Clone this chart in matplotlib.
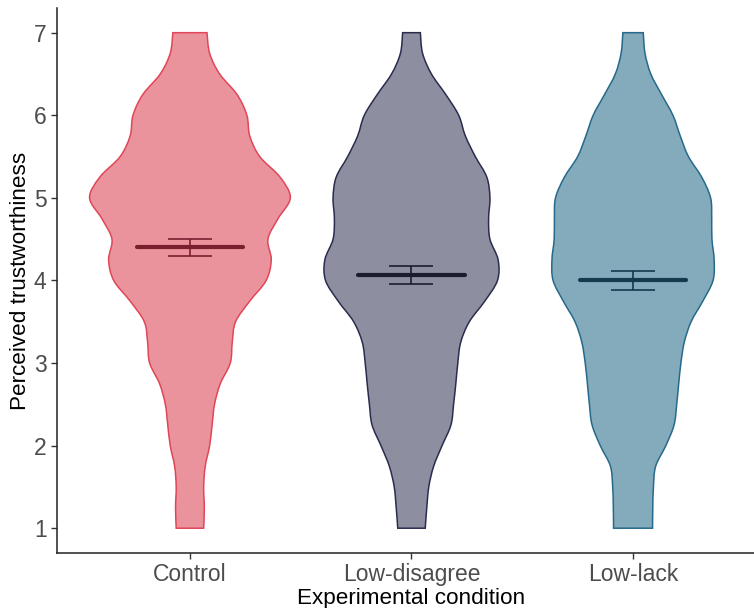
import numpy as np
import matplotlib
matplotlib.use("Agg")
import matplotlib.pyplot as plt
from matplotlib.path import Path
from matplotlib.patches import PathPatch

plt.rcParams['font.family'] = ['Liberation Sans', 'DejaVu Sans']

# --- data ---
conditions = ["Control", "Low-disagree", "Low-lack"]

# density levels (rating scale), shared by all violins
levels = [1.0, 1.25, 1.5, 1.75, 2.0, 2.25, 2.5, 2.75, 3.0, 3.25, 3.5, 3.75,
          4.0, 4.25, 4.5, 4.75, 5.0, 5.25, 5.5, 5.75, 6.0, 6.25, 6.5, 6.75, 7.0]

# violin half-widths (x units) at each level, bottom to top
control_width = [0.062, 0.065, 0.062, 0.069, 0.089, 0.100, 0.111, 0.137, 0.182,
                 0.191, 0.206, 0.270, 0.344, 0.367, 0.352, 0.398, 0.453, 0.407,
                 0.315, 0.270, 0.257, 0.213, 0.134, 0.089, 0.077]
disagree_width = [0.062, 0.069, 0.078, 0.100, 0.138, 0.178, 0.190, 0.200, 0.209,
                  0.222, 0.261, 0.331, 0.388, 0.391, 0.354, 0.348, 0.354, 0.340,
                  0.288, 0.243, 0.213, 0.155, 0.090, 0.050, 0.040]
lack_width = [0.088, 0.089, 0.092, 0.102, 0.148, 0.185, 0.197, 0.206, 0.216,
              0.231, 0.262, 0.315, 0.361, 0.366, 0.356, 0.355, 0.350, 0.310,
              0.250, 0.213, 0.180, 0.129, 0.080, 0.054, 0.046]

means = [4.40, 4.07, 4.00]
std_errors = [0.105, 0.11, 0.11]

fill_colors = ["#EB939C", "#8D8FA1", "#84ABBC"]
edge_colors = ["#DF4657", "#2A2C4E", "#26698A"]
mean_colors = ["#7A1F2E", "#1B1C2E", "#123B4E"]

widths = [control_width, disagree_width, lack_width]


def smooth_side(pts):
    # catmull-rom through the points, returned as bezier control points
    pts = np.asarray(pts)
    ext = np.vstack([pts[0], pts, pts[-1]])
    verts, codes = [], []
    for k in range(1, len(ext) - 2):
        p0, p1, p2, p3 = ext[k - 1], ext[k], ext[k + 1], ext[k + 2]
        verts += [p1 + (p2 - p0) / 6, p2 - (p3 - p1) / 6, p2]
        codes += [Path.CURVE4] * 3
    return verts, codes


def violin_path(pos, w, y):
    left = np.column_stack([pos - w, y])
    right = np.column_stack([pos + w, y])[::-1]
    verts = [left[0]]
    codes = [Path.MOVETO]
    v, c = smooth_side(left)
    verts += v
    codes += c
    verts.append(right[0])
    codes.append(Path.LINETO)
    v, c = smooth_side(right)
    verts += v
    codes += c
    verts.append(left[0])
    codes.append(Path.CLOSEPOLY)
    return Path(verts, codes)


fig = plt.figure(figsize=(7.54, 6.08), dpi=100)
# the panel runs a little past the right edge of the image, as in the reference
ax = fig.add_axes([0.0756, 0.0905, 0.9403, 0.8965])

y = np.array(levels)
for i, name in enumerate(conditions):
    pos = i + 1
    w = np.array(widths[i])
    patch = PathPatch(violin_path(pos, w, y), facecolor=fill_colors[i],
                      edgecolor=edge_colors[i], linewidth=1.1, zorder=2)
    ax.add_patch(patch)
    # mean line
    ax.plot([pos - 0.24, pos + 0.24], [means[i], means[i]],
            color=mean_colors[i], linewidth=3, solid_capstyle="round", zorder=3)
    # standard error bar
    ax.errorbar(pos, means[i], yerr=std_errors[i], color=mean_colors[i],
                capsize=16, elinewidth=1.2, capthick=1.2, zorder=3)

ax.set_xlim(0.4, 3.6)
ax.set_ylim(0.7, 7.3)
ax.set_xticks([1, 2, 3])
ax.set_xticklabels(conditions)
ax.set_yticks([1, 2, 3, 4, 5, 6, 7])

ax.spines['top'].set_visible(False)
ax.spines['right'].set_visible(False)
for s in ['left', 'bottom']:
    ax.spines[s].set_linewidth(1.1)
    ax.spines[s].set_color('#222222')

ax.tick_params(axis='both', labelsize=16.5, labelcolor='#4D4D4D',
               color='#333333', length=4, width=1)
ax.set_xlabel("Experimental condition", fontsize=16.2, labelpad=1)
ax.set_ylabel("Perceived trustworthiness", fontsize=16.2, labelpad=2)

fig.savefig("out.png", dpi=100)
